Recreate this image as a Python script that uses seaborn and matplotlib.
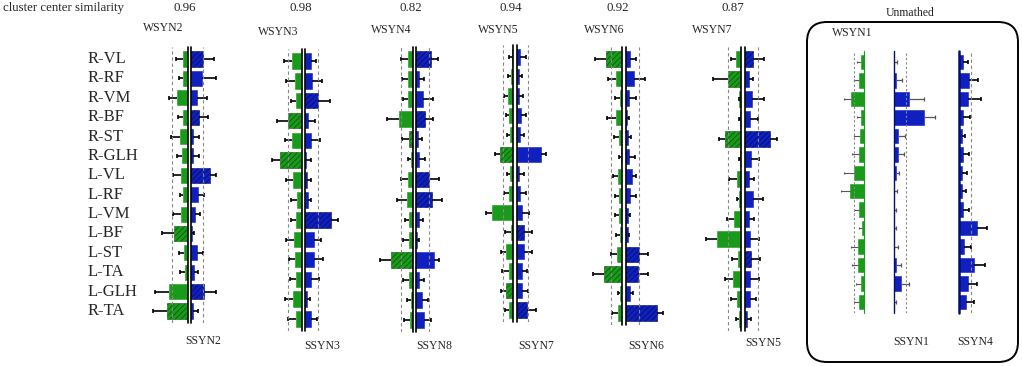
import numpy as np
import pandas as pd
import matplotlib
matplotlib.use("Agg")
import matplotlib.pyplot as plt
import seaborn as sns
from matplotlib.patches import FancyBboxPatch

# ==============================================
# Du lieu: trong so co cua tung synergy (W = di bo, S = chay)
# ==============================================
muscles = ["R-VL", "R-RF", "R-VM", "R-BF", "R-ST", "R-GLH", "L-VL",
           "L-RF", "L-VM", "L-BF", "L-ST", "L-TA", "L-GLH", "R-TA"]

similarity = ["0.96", "0.98", "0.82", "0.94", "0.92", "0.87"]
w_names = ["WSYN2", "WSYN3", "WSYN4", "WSYN5", "WSYN6", "WSYN7"]
s_names = ["SSYN2", "SSYN3", "SSYN8", "SSYN7", "SSYN6", "SSYN5"]

wsyn2 = [0.15, 0.13, 0.33, 0.15, 0.23, 0.18, 0.20, 0.13, 0.20, 0.42, 0.12, 0.09, 0.56, 0.63]
wsyn2_err = [0.20, 0.12, 0.23, 0.13, 0.27, 0.15, 0.23, 0.10, 0.23, 0.34, 0.15, 0.14, 0.42, 0.40]
wsyn2_hatch = [9, 13]
ssyn2 = [0.36, 0.34, 0.18, 0.24, 0.08, 0.06, 0.58, 0.23, 0.13, 0.03, 0.18, 0.09, 0.40, 0.08]
ssyn2_err = [0.34, 0.42, 0.31, 0.28, 0.16, 0.20, 0.18, 0.18, 0.16, 0.07, 0.18, 0.14, 0.36, 0.15]
ssyn2_hatch = [0, 3, 6, 12]

wsyn3 = [0.28, 0.21, 0.18, 0.40, 0.28, 0.66, 0.25, 0.14, 0.17, 0.23, 0.19, 0.17, 0.26, 0.17]
wsyn3_err = [0.25, 0.25, 0.15, 0.33, 0.22, 0.23, 0.23, 0.17, 0.14, 0.25, 0.20, 0.17, 0.25, 0.23]
wsyn3_hatch = [3, 5]
ssyn3 = [0.18, 0.22, 0.38, 0.10, 0.18, 0.04, 0.07, 0.08, 0.78, 0.26, 0.28, 0.18, 0.05, 0.17]
ssyn3_err = [0.16, 0.28, 0.36, 0.19, 0.26, 0.15, 0.11, 0.11, 0.21, 0.22, 0.27, 0.25, 0.10, 0.20]
ssyn3_hatch = [2, 8]

wsyn4 = [0.15, 0.15, 0.13, 0.40, 0.11, 0.06, 0.14, 0.18, 0.11, 0.10, 0.65, 0.11, 0.06, 0.09]
wsyn4_err = [0.21, 0.17, 0.16, 0.36, 0.21, 0.09, 0.21, 0.28, 0.13, 0.18, 0.33, 0.17, 0.12, 0.16]
wsyn4_hatch = [4, 10]
ssyn8 = [0.45, 0.10, 0.22, 0.27, 0.07, 0.10, 0.40, 0.47, 0.08, 0.02, 0.54, 0.10, 0.19, 0.25]
ssyn8_err = [0.21, 0.13, 0.28, 0.23, 0.12, 0.17, 0.29, 0.30, 0.12, 0.08, 0.16, 0.14, 0.18, 0.21]
ssyn8_hatch = [0, 3, 6, 7]

wsyn5 = [0.03, 0.04, 0.15, 0.10, 0.07, 0.38, 0.09, 0.10, 0.63, 0.04, 0.20, 0.12, 0.21, 0.12]
wsyn5_err = [0.09, 0.11, 0.10, 0.09, 0.09, 0.15, 0.09, 0.15, 0.17, 0.18, 0.14, 0.19, 0.15, 0.12]
wsyn5_hatch = [5, 12]
ssyn7 = [0.10, 0.06, 0.08, 0.12, 0.09, 0.74, 0.08, 0.11, 0.17, 0.22, 0.22, 0.15, 0.15, 0.30]
ssyn7_err = [0.18, 0.11, 0.12, 0.15, 0.13, 0.14, 0.14, 0.18, 0.19, 0.23, 0.24, 0.17, 0.19, 0.28]
ssyn7_hatch = [9, 13]

wsyn6 = [0.48, 0.18, 0.06, 0.19, 0.09, 0.02, 0.11, 0.10, 0.08, 0.05, 0.15, 0.53, 0.05, 0.13]
wsyn6_err = [0.34, 0.24, 0.14, 0.25, 0.16, 0.07, 0.15, 0.10, 0.14, 0.12, 0.19, 0.33, 0.08, 0.18]
wsyn6_hatch = [0, 11]
ssyn6 = [0.11, 0.23, 0.08, 0.02, 0.06, 0.08, 0.16, 0.11, 0.04, 0.04, 0.38, 0.35, 0.11, 0.92]
ssyn6_err = [0.17, 0.33, 0.21, 0.07, 0.08, 0.17, 0.14, 0.17, 0.07, 0.03, 0.28, 0.31, 0.10, 0.18]
ssyn6_hatch = [10, 11, 13]

wsyn7 = [0.13, 0.39, 0.04, 0.02, 0.46, 0.02, 0.12, 0.04, 0.19, 0.70, 0.09, 0.22, 0.12, 0.05]
wsyn7_err = [0.17, 0.45, 0.02, 0.04, 0.19, 0.04, 0.22, 0.08, 0.23, 0.34, 0.17, 0.26, 0.17, 0.09]
wsyn7_hatch = [1, 4]
ssyn5 = [0.26, 0.12, 0.23, 0.16, 0.76, 0.20, 0.13, 0.26, 0.14, 0.16, 0.20, 0.16, 0.15, 0.08]
ssyn5_err = [0.32, 0.13, 0.35, 0.23, 0.22, 0.23, 0.16, 0.30, 0.13, 0.28, 0.26, 0.28, 0.19, 0.12]
ssyn5_hatch = [0, 4, 10]

# khong ghep cap duoc
wsyn1 = [0.10, 0.15, 0.41, 0.09, 0.13, 0.17, 0.31, 0.43, 0.15, 0.07, 0.20, 0.18, 0.10, 0.15]
wsyn1_err = [0.11, 0.16, 0.19, 0.14, 0.17, 0.21, 0.29, 0.27, 0.17, 0.08, 0.20, 0.19, 0.15, 0.16]
ssyn1 = [0.01, 0.08, 0.45, 0.92, 0.14, 0.12, 0.06, 0.02, 0.01, 0.01, 0.01, 0.07, 0.21, 0.01]
ssyn1_err = [0.08, 0.16, 0.47, 0.31, 0.21, 0.19, 0.11, 0.07, 0.07, 0.07, 0.11, 0.16, 0.25, 0.07]
ssyn4 = [0.12, 0.31, 0.29, 0.14, 0.09, 0.14, 0.11, 0.09, 0.13, 0.54, 0.17, 0.47, 0.27, 0.23]
ssyn4_err = [0.17, 0.28, 0.37, 0.19, 0.09, 0.17, 0.13, 0.12, 0.18, 0.30, 0.21, 0.33, 0.29, 0.24]

# nguong (duong net dut) cho moi synergy
w_thr = [0.46, 0.40, 0.35, 0.30, 0.32, 0.37]
s_thr = [0.38, 0.40, 0.38, 0.34, 0.39, 0.39]

w_vals = [wsyn2, wsyn3, wsyn4, wsyn5, wsyn6, wsyn7]
w_errs = [wsyn2_err, wsyn3_err, wsyn4_err, wsyn5_err, wsyn6_err, wsyn7_err]
w_hatch = [wsyn2_hatch, wsyn3_hatch, wsyn4_hatch, wsyn5_hatch, wsyn6_hatch, wsyn7_hatch]
s_vals = [ssyn2, ssyn3, ssyn8, ssyn7, ssyn6, ssyn5]
s_errs = [ssyn2_err, ssyn3_err, ssyn8_err, ssyn7_err, ssyn6_err, ssyn5_err]
s_hatch = [ssyn2_hatch, ssyn3_hatch, ssyn8_hatch, ssyn7_hatch, ssyn6_hatch, ssyn5_hatch]

# ==============================================
# Bo cuc (pixel)
# ==============================================
W, H = 1022, 366
PX = 100 / 3          # pixel tren 1 don vi trong so
XMAX = 1.3
green_edge = [187.7, 301.5, 412.7, 512.7, 622.0, 740.7]
blue_edge = [190.7, 305.0, 416.0, 516.7, 626.3, 744.7]
row_top = [59, 61, 59, 57, 59, 59]
row_bot = [311, 319, 320, 310, 313, 319]

GREEN = "#1a9a1a"
GREEN_D = "#0b5a0b"
BLUE = "#1020c0"
BLUE_D = "#050f6a"

sns.set_theme(style="white")
plt.rcParams["font.family"] = ["Liberation Serif", "DejaVu Serif"]
plt.rcParams["hatch.linewidth"] = 0.6

fig = plt.figure(figsize=(W / 100, H / 100), dpi=100)


def ve_nua(x_px, top, bot, vals, errs, hatch_idx, mau, mau_dam, nguong, ben_trai,
           mau_truc="black", lw_truc=1.2, mau_err="black", cap=3.5, lw_err=1.2,
           ls_nguong=(0, (3, 2.5))):
    s = (bot - top) / 13
    y0 = top - 0.6 * s
    h = 14.2 * s
    w = XMAX * PX
    x0 = x_px - w if ben_trai else x_px
    ax = fig.add_axes([x0 / W, 1 - (y0 + h) / H, w / W, h / H])
    ax.patch.set_alpha(0)
    df = pd.DataFrame({"muscle": muscles, "w": vals})
    sns.barplot(data=df, x="w", y="muscle", orient="h", color=mau, saturation=1,
                width=0.78, errorbar=None, edgecolor=mau, linewidth=0.4, ax=ax)
    for i, p in enumerate(ax.patches):
        if i in hatch_idx:
            p.set_hatch("//////")
            p.set_edgecolor(mau_dam)
    # thanh sai so chi ve mot phia (ra ngoai)
    y = np.arange(len(vals))
    ends = np.array(vals) + np.array(errs)
    ax.hlines(y, vals, ends, color=mau_err, lw=lw_err)
    if cap > 0:
        ax.plot(ends, y, ls="none", marker="|", ms=cap, mew=lw_err, color=mau_err)
    ax.axvline(nguong, color="#888888", ls=ls_nguong, lw=0.8)
    if mau_truc is not None:
        ax.axvline(0, color=mau_truc, lw=lw_truc, clip_on=False)
    if ben_trai:
        ax.set_xlim(XMAX, 0)
    else:
        ax.set_xlim(0, XMAX)
    ax.set_ylim(13.6, -0.6)
    ax.axis("off")
    return ax


for k in range(6):
    ve_nua(green_edge[k], row_top[k], row_bot[k], w_vals[k], w_errs[k], w_hatch[k],
           GREEN, GREEN_D, w_thr[k], True)
    ve_nua(blue_edge[k], row_top[k], row_bot[k], s_vals[k], s_errs[k], s_hatch[k],
           BLUE, BLUE_D, s_thr[k], False)

# nhom khong ghep cap
ve_nua(864.3, 62, 302, wsyn1, wsyn1_err, [], GREEN, GREEN_D, 0.31, True,
       mau_truc=GREEN, lw_truc=0.8, mau_err="#555555", cap=2.0, lw_err=0.8,
       ls_nguong=(0, (2, 2)))
ve_nua(893.7, 62, 302, ssyn1, ssyn1_err, [], BLUE, BLUE_D, 0.37, False,
       mau_truc=BLUE_D, lw_truc=1.0, mau_err="#555555", cap=2.5, lw_err=0.9,
       ls_nguong=(0, (2, 2)))
ve_nua(958.7, 62, 302, ssyn4, ssyn4_err, [], BLUE, BLUE_D, 0.37, False,
       mau_truc=BLUE_D, lw_truc=1.8, mau_err="black", cap=3.5)


def chu(x, y, s, size, ha="left", va="center"):
    fig.text(x / W, 1 - y / H, s, fontsize=size, ha=ha, va=va)


chu(3, 8, "cluster center similarity", 9.3)
sim_x = [185, 301, 411, 511, 618, 733]
for k in range(6):
    chu(sim_x[k], 8, similarity[k], 9.3, ha="center")

w_lab_x = [143, 258, 371, 478, 584, 692]
w_lab_y = [28, 32, 30, 30, 30, 30]
for k in range(6):
    chu(w_lab_x[k], w_lab_y[k], w_names[k], 8.5)

s_lab_x = [185, 304, 416, 518, 628, 745]
s_lab_y = [341, 346, 346, 346, 346, 343]
for k in range(6):
    chu(s_lab_x[k], s_lab_y[k], s_names[k], 8.5)

s_top = 59
s_step = (311 - 59) / 13
for i, m in enumerate(muscles):
    chu(88, s_top + i * s_step, m, 12)

chu(910, 13, "Unmathed", 8.5, ha="center")
chu(832, 33, "WSYN1", 8.5)
chu(893, 342, "SSYN1", 8.5)
chu(957, 342, "SSYN4", 8.5)

# khung bo tron
box = FancyBboxPatch((807 + 20, H - 362 + 20), 1018 - 807 - 40, 362 - 22 - 40,
                     boxstyle="round,pad=20", transform=None, facecolor="none",
                     edgecolor="black", linewidth=1.4)
fig.patches.append(box)

fig.savefig("out.png", dpi=100)
